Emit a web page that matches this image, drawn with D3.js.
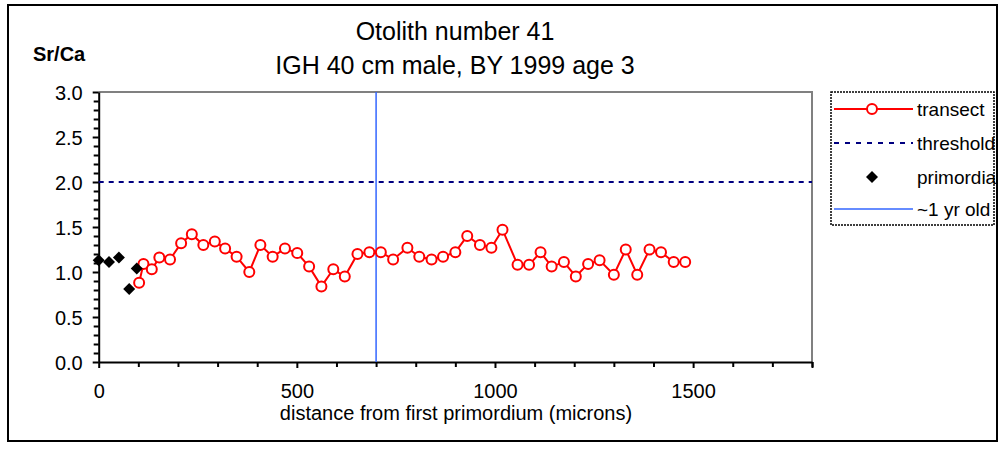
<!DOCTYPE html>
<html>
<head>
<meta charset="utf-8">
<script src="https://cdn.jsdelivr.net/npm/d3@7"></script>
<style>
  body { margin: 0; background: #fff; }
  text { font-family: "Liberation Sans", Arial, sans-serif; fill: #000; }
</style>
</head>
<body>
<div id="chart"></div>
<script>
// transect points (distance in microns, Sr/Ca)
let transectX = [102, 113, 134, 153, 180, 208, 235, 264, 293, 319, 348, 380, 408, 439, 470, 501, 531, 562, 592,
  621, 653, 683, 712, 743, 779, 809, 840, 869, 900, 930, 962, 991, 1019, 1057, 1086, 1115, 1143, 1174, 1204,
  1235, 1264, 1300, 1330, 1359, 1390, 1419, 1451, 1480];
let transectY = [0.88, 1.09, 1.03, 1.16, 1.14, 1.32, 1.42, 1.30, 1.34, 1.26, 1.17, 1.00, 1.30, 1.17, 1.26, 1.21, 1.06, 0.84, 1.03,
  0.95, 1.20, 1.22, 1.22, 1.14, 1.27, 1.17, 1.14, 1.17, 1.22, 1.40, 1.30, 1.27, 1.47, 1.08, 1.08, 1.22, 1.06, 1.11, 0.95,
  1.09, 1.13, 0.97, 1.25, 0.97, 1.25, 1.22, 1.11, 1.11];

// primordia points
let primordiaX = [0, 26, 51, 77, 96];
let primordiaY = [1.13, 1.11, 1.16, 0.81, 1.04];

let threshold = 2.0;
let oneYear = 700;

let xTicks = [0, 500, 1000, 1500];
let yTicks = [0, 0.5, 1.0, 1.5, 2.0, 2.5, 3.0];
let legendNames = ['transect', 'threshold', 'primordia', '~1 yr old'];

let width = 1000, height = 451;
let svg = d3.select('#chart').append('svg')
  .attr('width', width)
  .attr('height', height);

// outer frame
svg.append('rect')
  .attr('x', 8).attr('y', 5)
  .attr('width', 989).attr('height', 436)
  .attr('fill', 'none').attr('stroke', '#000').attr('stroke-width', 2);

let xScale = d3.scaleLinear().domain([0, 1800]).range([98.7, 812]);
let yScale = d3.scaleLinear().domain([0, 3]).range([362, 92]);

// plot frame (top and right in grey)
svg.append('path')
  .attr('d', 'M' + xScale(0) + ',' + yScale(3) + 'H' + xScale(1800) + 'V' + yScale(0))
  .attr('fill', 'none').attr('stroke', '#808080').attr('stroke-width', 2);

// minor ticks
let xMinor = d3.range(0, 1801, 100).filter(d => d % 500 !== 0);
let yMinor = d3.range(0, 31).map(d => d / 10).filter(d => Math.round(d * 10) % 5 !== 0);

svg.append('g')
  .attr('transform', 'translate(0,' + yScale(0) + ')')
  .call(d3.axisBottom(xScale).tickValues(xMinor).tickSize(5).tickFormat(''))
  .call(g => g.select('.domain').remove())
  .selectAll('line').attr('stroke-width', 2);

svg.append('g')
  .attr('transform', 'translate(' + xScale(0) + ',0)')
  .call(d3.axisLeft(yScale).tickValues(yMinor).tickSize(5).tickFormat(''))
  .call(g => g.select('.domain').remove())
  .selectAll('line').attr('stroke-width', 2);

// x axis
let xAxis = svg.append('g')
  .attr('transform', 'translate(0,' + yScale(0) + ')')
  .call(d3.axisBottom(xScale).tickValues(xTicks.concat([1800])).tickSize(6).tickSizeOuter(0)
    .tickFormat(d => d === 1800 ? '' : d));
xAxis.select('.domain').attr('stroke-width', 2);
xAxis.selectAll('line').attr('stroke-width', 2);
xAxis.selectAll('text')
  .attr('y', 36).attr('dy', 0)
  .style('font-size', '20px');

// y axis
let yAxis = svg.append('g')
  .attr('transform', 'translate(' + xScale(0) + ',0)')
  .call(d3.axisLeft(yScale).tickValues(yTicks).tickSize(6).tickSizeOuter(0).tickFormat(d3.format('.1f')));
yAxis.select('.domain').attr('stroke-width', 2);
yAxis.selectAll('line').attr('stroke-width', 2);
yAxis.selectAll('text')
  .attr('x', -16).attr('dy', '0.36em')
  .style('font-size', '20px');

// titles
svg.append('text').attr('x', 455).attr('y', 40).attr('text-anchor', 'middle')
  .style('font-size', '25px').text('Otolith number 41');
svg.append('text').attr('x', 455).attr('y', 74).attr('text-anchor', 'middle')
  .style('font-size', '25px').text('IGH 40 cm male, BY 1999 age 3');
svg.append('text').attr('x', 33).attr('y', 61)
  .style('font-size', '20px').style('font-weight', 'bold').text('Sr/Ca');
svg.append('text').attr('x', 456).attr('y', 420).attr('text-anchor', 'middle')
  .style('font-size', '20px').text('distance from first primordium (microns)');

// threshold line
svg.append('line')
  .attr('x1', xScale(0)).attr('x2', xScale(1800))
  .attr('y1', yScale(threshold)).attr('y2', yScale(threshold))
  .attr('stroke', '#000080').attr('stroke-width', 2).attr('stroke-dasharray', '5,5');

// ~1 yr old line
svg.append('line')
  .attr('x1', xScale(oneYear)).attr('x2', xScale(oneYear))
  .attr('y1', yScale(3)).attr('y2', yScale(0))
  .attr('stroke', '#3366ff').attr('stroke-width', 1.5);

// transect line and markers
let transect = transectX.map((x, i) => [x, transectY[i]]);
svg.append('path')
  .datum(transect)
  .attr('fill', 'none').attr('stroke', '#ff0000').attr('stroke-width', 2)
  .attr('d', d3.line().x(d => xScale(d[0])).y(d => yScale(d[1])));

svg.selectAll('.dot-red')
  .data(transect)
  .enter()
  .append('circle')
  .attr('class', 'dot-red')
  .attr('cx', d => xScale(d[0]))
  .attr('cy', d => yScale(d[1]))
  .attr('r', 5)
  .attr('fill', '#fff').attr('stroke', '#ff0000').attr('stroke-width', 2);

// primordia diamonds
let diamond = d3.symbol(d3.symbolSquare, 72);
svg.selectAll('.diamond')
  .data(primordiaX.map((x, i) => [x, primordiaY[i]]))
  .enter()
  .append('path')
  .attr('class', 'diamond')
  .attr('d', diamond)
  .attr('transform', d => 'translate(' + xScale(d[0]) + ',' + yScale(d[1]) + ') rotate(45)')
  .attr('fill', '#000');

// legend
let legend = svg.append('g');
legend.append('rect')
  .attr('x', 831).attr('y', 92).attr('width', 163).attr('height', 133)
  .attr('fill', '#fff').attr('stroke', '#000').attr('stroke-width', 1.5).attr('stroke-dasharray', '2,1');

let rowY = [109, 143, 177, 209];
legendNames.forEach(function(name, i) {
  let y = rowY[i];
  if (i === 0) {
    legend.append('line').attr('x1', 834).attr('x2', 913).attr('y1', y).attr('y2', y)
      .attr('stroke', '#ff0000').attr('stroke-width', 2);
    legend.append('circle').attr('cx', 872).attr('cy', y).attr('r', 5)
      .attr('fill', '#fff').attr('stroke', '#ff0000').attr('stroke-width', 2);
  } else if (i === 1) {
    legend.append('line').attr('x1', 834).attr('x2', 913).attr('y1', y).attr('y2', y)
      .attr('stroke', '#000080').attr('stroke-width', 2).attr('stroke-dasharray', '5,6');
  } else if (i === 2) {
    legend.append('path').attr('d', diamond)
      .attr('transform', 'translate(872,' + y + ') rotate(45)').attr('fill', '#000');
  } else {
    legend.append('line').attr('x1', 834).attr('x2', 913).attr('y1', y).attr('y2', y)
      .attr('stroke', '#3366ff').attr('stroke-width', 1.5);
  }
  legend.append('text').attr('x', 917).attr('y', y).attr('dy', '0.36em')
    .style('font-size', '19px').text(name);
});
</script>
</body>
</html>
